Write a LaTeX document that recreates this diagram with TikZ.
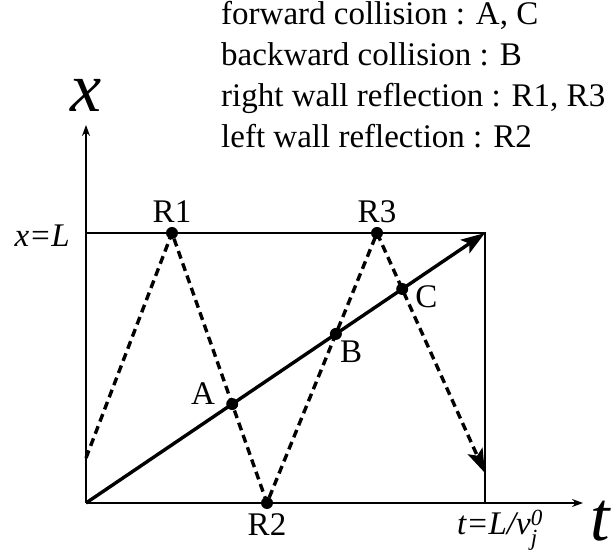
\documentclass[tikz,border=0pt]{standalone}
\usepackage{amsmath}
\usepackage{fontspec}
\setmainfont{Liberation Serif}
\usetikzlibrary{arrows.meta,positioning}
\tikzset{
  ax/.style={-{Stealth[length=11pt,width=8pt]}, line width=1.3pt},
  wall/.style={line width=1.3pt},
  world/.style={-{Stealth[length=24pt,width=16pt,inset=5pt]}, line width=3.4pt},
  ray/.style={-{Stealth[length=24pt,width=16pt,inset=5pt]}, line width=3.4pt, dash pattern=on 8pt off 5pt},
  lbl/.style={font=\fontsize{33}{39}\selectfont, inner sep=2pt},
  big/.style={font=\fontsize{70}{80}\selectfont\itshape, inner sep=2pt}
}

\begin{document}
\begin{tikzpicture}[x=1pt,y=1pt]
  \useasboundingbox (0,0) rectangle (611,554);
  % frame and axes
  \coordinate (O) at (86,51);
  \coordinate (xtip) at (583,51);
  \coordinate (ytip) at (86,429);
  \coordinate (TL) at (86,321);
  \coordinate (TR) at (485,321);
  \coordinate (BR) at (485,51);
  % reflections
  \coordinate (S) at (86,96);
  \coordinate (R1) at (172,321);
  \coordinate (R2) at (267,51);
  \coordinate (R3) at (377,321);
  \coordinate (E) at (485,81);
  % collisions
  \coordinate (A) at (intersection of O--TR and R1--R2);
  \coordinate (B) at (intersection of O--TR and R2--R3);
  \coordinate (C) at (intersection of O--TR and R3--E);

  \draw[wall] (TL) -- (TR) -- (BR);
  \draw[ax] (O) -- (xtip);
  \draw[ax] (O) -- (ytip);
  \draw[world] (O) -- (TR);
  \draw[ray] (S) -- (R1) -- (R2) -- (R3) -- (E);
  \foreach \p in {R1,R2,R3,A,B,C}
    \fill (\p) circle (6);

  \node[lbl, above=8pt of R1] (lR1) {R1};
  \node[lbl, below=8pt of R2] (lR2) {R2};
  \node[lbl, above=8pt of R3] (lR3) {R3};
  \node[lbl, left=15pt of A, yshift=10pt] (lA) {A};
  \node[lbl, right=2pt of B, yshift=-18pt] (lB) {B};
  \node[lbl, right=11pt of C, yshift=-8pt] (lC) {C};
  \node[lbl, left=14pt of TL, yshift=-3pt, font=\fontsize{33}{39}\selectfont\itshape] (lL) {x=L};
  \node[lbl, below=5pt of BR, xshift=15pt] (lT) {\textit{t=L/v}$_{\textit{j}}^{\textit{0}}$};
  \node[big, above=11pt of ytip] (lx) {x};
  \node[big, right=5pt of xtip, yshift=-18pt] (lt) {t};

  % legend
  \foreach \txt [count=\i] in {{forward collision : A, C},{backward collision : B},{right wall reflection : R1, R3},{left wall reflection : R2}}
    \node[lbl, anchor=base west] (leg\i) at (219,570-41*\i) {\txt};
\end{tikzpicture}
\end{document}
